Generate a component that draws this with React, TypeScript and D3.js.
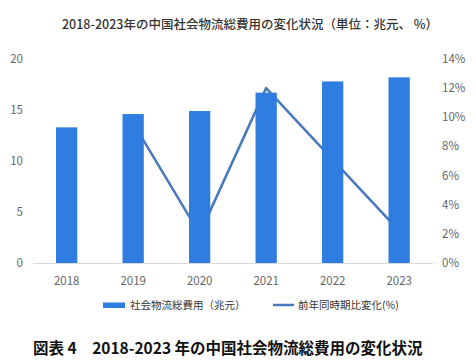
import React from "react";
import * as d3 from "d3";

const years = ["2018", "2019", "2020", "2021", "2022", "2023"];
const totalCost = [13.3, 14.6, 14.9, 16.7, 17.8, 18.2];
const lineYears = ["2019", "2020", "2021", "2022", "2023"];
const yoyChange = [9.6, 2.0, 12.0, 7.1, 2.2];
const leftTicks = [0, 5, 10, 15, 20];
const rightTicks = [0, 2, 4, 6, 8, 10, 12, 14];

const W = 476;
const H = 363;
const font = "'Noto Sans CJK JP', 'Noto Sans', sans-serif";

export default function App() {
  const x = d3.scaleBand().domain(years).range([33.4, 432.4]).paddingInner(0.68).paddingOuter(0.34);
  const yL = d3.scaleLinear().domain([0, 20]).range([263, 59]);
  const yR = d3.scaleLinear().domain([0, 14]).range([263, 59]);
  const cx = (d: string) => (x(d) ?? 0) + x.bandwidth() / 2;

  const line = d3
    .line<number>()
    .x((_, i) => cx(lineYears[i]))
    .y((d) => yR(d));

  return (
    <svg
      width={W}
      height={H}
      style={{ position: "absolute", left: 0, top: 0, background: "#fff" }}
      fontFamily={font}
    >
      <text x={250} y={25} dy="0.35em" textAnchor="middle" fontSize={12.5} fill="#333" fontWeight={500}>
        2018-2023年の中国社会物流総費用の変化状況（単位：兆元、 %）
      </text>

      {leftTicks.map((t) => (
        <text key={t} x={23} y={yL(t)} dy="0.35em" textAnchor="end" fontSize={11.5} fill="#666">
          {t}
        </text>
      ))}
      {rightTicks.map((t) => (
        <text key={t} x={442} y={yR(t)} dy="0.35em" textAnchor="start" fontSize={11.5} fill="#666">
          {t}%
        </text>
      ))}

      <line x1={33} x2={433} y1={263.5} y2={263.5} stroke="#d9d9d9" strokeWidth={1} />

      <path d={line(yoyChange) ?? ""} fill="none" stroke="#4a78bd" strokeWidth={2.5} strokeLinejoin="round" />

      {years.map((yr, i) => (
        <rect
          key={yr}
          x={x(yr)}
          y={yL(totalCost[i])}
          width={x.bandwidth()}
          height={yL(0) - yL(totalCost[i])}
          fill="#2f7de1"
        />
      ))}

      {years.map((yr) => (
        <text key={yr} x={cx(yr)} y={281} dy="0.35em" textAnchor="middle" fontSize={11.5} fill="#666">
          {yr}
        </text>
      ))}

      <rect x={103} y={302.5} width={22} height={5.5} fill="#2f7de1" />
      <text x={130} y={305} dy="0.35em" fontSize={10.5} fill="#333">
        社会物流総費用（兆元）
      </text>
      <line x1={273} x2={294} y1={305} y2={305} stroke="#4a78bd" strokeWidth={2.5} />
      <text x={298} y={305} dy="0.35em" fontSize={10.5} fill="#333">
        前年同時期比変化(%)
      </text>

      <text x={33} y={349} dy="0.35em" fontSize={15.5} fontWeight={700} fill="#111">
        図表 4　2018-2023 年の中国社会物流総費用の変化状況
      </text>
    </svg>
  );
}
